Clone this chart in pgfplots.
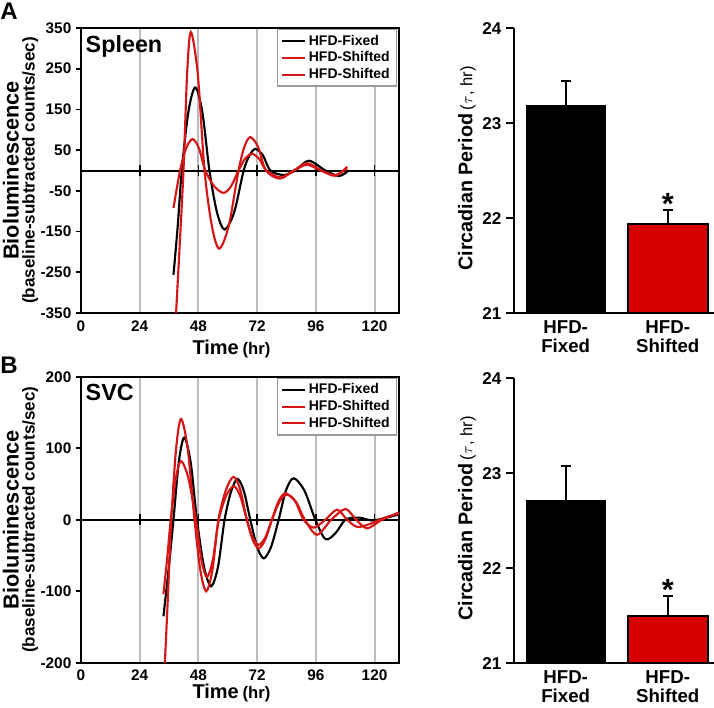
\documentclass[border=0pt]{standalone}
\usepackage{fontspec}
\setmainfont{Liberation Sans}
\usepackage{pgfplots}
\pgfplotsset{compat=1.18}

\definecolor{rd}{RGB}{212,22,22}
\definecolor{barred}{RGB}{214,0,0}
\definecolor{grd}{RGB}{188,188,188}

\tikzset{zline/.style={line width=1.5pt, black}}

\pgfplotsset{
  lineplot/.style={
    scale only axis, width=238.5pt,
    xmin=0, xmax=130, xtick={0,24,...,120},
    xmajorgrids, major grid style={grd, line width=1.5pt},
    axis line style={line width=1.5pt},
    xtick style={draw=none},
    ytick pos=left, ytick align=outside,
    ytick style={line width=1.2pt, black},
    major tick length=3.75pt,
    /pgf/number format/assume math mode=true,
    tick label style={font=\fontsize{11.5}{12}\selectfont\bfseries},
    xticklabel style={yshift=-2pt},
    xlabel={{\fontsize{15}{15}\selectfont Time} {\fontsize{12.5}{15}\selectfont (hr)}},
    xlabel style={font=\bfseries, inner sep=0pt, at={(axis description cs:0.473,0)}, anchor=north},
    ylabel={{\fontsize{16.3}{16}\selectfont Bioluminescence}\\{\fontsize{12.8}{13}\selectfont (baseline-subtracted counts/sec)}},
    ylabel style={align=center, font=\bfseries, at={(axis description cs:-0.19,0.5)}, anchor=center},
    legend style={at={(axis description cs:0.994,0.9965)}, anchor=north east,
      draw=gray!80, line width=1pt, font=\fontsize{10.5}{11}\selectfont\bfseries,
      row sep=-0.5pt, inner xsep=3pt, inner ysep=2pt},
    legend cell align=left,
    legend image code/.code={\draw[#1] (0pt,0pt) -- (17pt,0pt);},
    every axis plot/.append style={line width=1.6pt, smooth, tension=0.5},
  },
  barplot/.style={
    scale only axis, width=150pt, height=213.75pt,
    clip mode=individual,
    xmin=-0.506, xmax=1.453, ymin=21, ymax=24, ytick={21,22,23,24},
    axis x line*=bottom, axis y line*=left,
    axis line style={line width=1.5pt},
    xtick={0,1}, xticklabels={{HFD-\\Fixed},{HFD-\\Shifted}},
    xtick style={draw=none},
    ytick align=outside, ytick style={line width=1.2pt, black}, major tick length=6pt,
    /pgf/number format/assume math mode=true,
    yticklabel style={font=\fontsize{12.8}{13}\selectfont\bfseries},
    xticklabel style={font=\fontsize{14}{14.6}\selectfont\bfseries, align=center, inner sep=0pt, yshift=-5pt},
  },
}

\begin{document}
\begin{tikzpicture}
\useasboundingbox (0,0) rectangle (535.5pt,530.25pt);

% panel A, spleen
\begin{axis}[lineplot, at={(60.75pt,295.5pt)}, height=213.75pt,
  ymin=-350, ymax=350, ytick={-350,-250,...,350},
  xlabel style={yshift=-20pt}]
\draw[zline] (axis cs:0,0) -- (axis cs:130,0);
\pgfplotsinvokeforeach{24,48,72,96,120}{\draw[line width=1.3pt] ([yshift=-4pt]axis cs:#1,0) -- ([yshift=4pt]axis cs:#1,0);}
\addplot[black] coordinates {(37.8,-256) (39.5,-140) (41.2,0) (43.9,144) (46.7,204) (49.6,144) (52.5,0) (55.6,-103) (58.7,-145) (62.6,-103) (66.5,0) (68.9,37) (71.3,53) (74.4,37) (77.4,0) (82.8,-11) (87.6,0) (93.1,24) (99.9,0) (105.4,-13.5) (108.8,-3)};
\addlegendentry{HFD-Fixed}
\addplot[rd] coordinates {(38.6,-380) (40.2,-200) (41.9,0) (43.4,240) (44.9,340) (47.7,240) (50.5,0) (53.5,-136) (56.5,-192) (60.4,-136) (64.4,0) (66.8,58) (69.2,82) (72.4,58) (75.6,0) (81.3,-20) (87,0) (92.4,18) (98.2,0) (104,-13) (108.8,9)};
\addlegendentry{HFD-Shifted}
\addplot[rd] coordinates {(37.8,-92) (40.5,0) (43,55) (45.6,77) (48.2,55) (50.8,0) (54.5,-39) (58.3,-55) (61.3,-39) (64.4,0) (67.2,30) (69.9,41) (72.8,29) (75.8,0) (81.5,-17) (87,0) (92.4,14) (98,0) (104,-11) (108.8,5)};
\addlegendentry{HFD-Shifted}
\node[anchor=north west, inner sep=0pt, font=\fontsize{17.5}{18}\selectfont\bfseries] at (axis description cs:0.014,0.975) {Spleen};
\end{axis}

% panel B, SVC
\begin{axis}[lineplot, at={(60.75pt,33.2pt)}, height=214.5pt,
  ymin=-200, ymax=200, ytick={-200,-100,...,200},
  xlabel style={yshift=-16pt}]
\draw[zline] (axis cs:0,0) -- (axis cs:130,0);
\pgfplotsinvokeforeach{24,48,72,96,120}{\draw[line width=1.3pt] ([yshift=-4pt]axis cs:#1,0) -- ([yshift=4pt]axis cs:#1,0);}
\addplot[black] coordinates {(33.7,-135) (35.8,-70) (37.8,0) (40,81) (42.2,115) (44.8,81) (47.4,0) (50.3,-66) (53.2,-93) (56,-66) (58.7,0) (61.4,40) (64,57) (66.6,40) (69.2,0) (72,-38) (74.7,-54) (77.7,-38) (80.8,0) (83.8,41) (86.9,58) (91.3,41) (95.8,0) (99.9,-27) (104,-19) (108.1,0) (113.6,3) (119,-1) (125,3) (130.6,8)};
\addlegendentry{HFD-Fixed}
\addplot[rd] coordinates {(34.1,-215) (35.5,-110) (36.9,0) (38.9,100) (40.9,141) (43.6,100) (46.4,0) (48.8,-71) (51.2,-100) (53.7,-71) (56.2,0) (59.3,42) (62.4,60) (65.1,42) (67.8,0) (70.2,-28) (72.6,-40) (75.3,-28) (78.1,0) (81.1,25) (84.2,35) (87.9,25) (91.5,0) (96.5,-21) (102.3,0) (108.1,15) (112.5,0) (117,-12) (123,0) (130.6,11)};
\addlegendentry{HFD-Shifted}
\addplot[rd] coordinates {(33.7,-104) (35.2,-55) (36.7,0) (38.8,58) (40.9,82) (43.9,58) (47,0) (49.2,-56) (51.5,-80) (53.9,-56) (56.3,0) (59.3,33) (62.4,47) (65.1,33) (67.8,0) (70.2,-25) (72.6,-35) (75.3,-25) (78,0) (80.8,26) (83.5,37) (87.5,26) (91,0) (95.1,-11) (99.9,0) (104.7,14) (108.8,0) (112.9,-10) (118,-6) (122,0) (126,5) (130.6,9)};
\addlegendentry{HFD-Shifted}
\node[anchor=north west, inner sep=0pt, font=\fontsize{17.5}{18}\selectfont\bfseries] at (axis description cs:0.014,0.975) {SVC};
\end{axis}

% bar chart A
\begin{axis}[barplot, at={(385.5pt,295.3pt)}]
\addplot[ybar, bar width=0.78, fill=black, draw=black,
  error bars/.cd, y dir=plus, y explicit,
  error bar style={line width=1.5pt, black},
  error mark options={line width=1.5pt, black, mark size=3.75pt, rotate=90}]
  coordinates {(0,23.19) +- (0,0.25)};
\addplot[ybar, bar width=0.78, fill=barred, draw=black, line width=1.5pt,
  error bars/.cd, y dir=plus, y explicit,
  error bar style={line width=1.5pt, black},
  error mark options={line width=1.5pt, black, mark size=3.75pt, rotate=90}]
  coordinates {(1,21.94) +- (0,0.15)};
\node[anchor=base, inner sep=0pt, font=\fontsize{23}{23}\selectfont\bfseries] at (axis cs:1,22.04) {*};
\node[rotate=90, anchor=center, inner sep=0pt] at (axis description cs:-0.235,0.508)
  {{\fontsize{14.8}{16}\selectfont\bfseries Circadian Period} {\fontsize{12.5}{12}\selectfont ($\tau$, hr)}};
\end{axis}

% bar chart B
\begin{axis}[barplot, at={(385.5pt,32.8pt)}]
\addplot[ybar, bar width=0.78, fill=black, draw=black,
  error bars/.cd, y dir=plus, y explicit,
  error bar style={line width=1.5pt, black},
  error mark options={line width=1.5pt, black, mark size=3.75pt, rotate=90}]
  coordinates {(0,22.72) +- (0,0.36)};
\addplot[ybar, bar width=0.78, fill=barred, draw=black, line width=1.5pt,
  error bars/.cd, y dir=plus, y explicit,
  error bar style={line width=1.5pt, black},
  error mark options={line width=1.5pt, black, mark size=3.75pt, rotate=90}]
  coordinates {(1,21.50) +- (0,0.21)};
\node[anchor=base, inner sep=0pt, font=\fontsize{23}{23}\selectfont\bfseries] at (axis cs:1,21.66) {*};
\node[rotate=90, anchor=center, inner sep=0pt] at (axis description cs:-0.235,0.508)
  {{\fontsize{14.8}{16}\selectfont\bfseries Circadian Period} {\fontsize{12.5}{12}\selectfont ($\tau$, hr)}};
\end{axis}

\node[anchor=north west, inner sep=0pt, font=\fontsize{18}{18}\selectfont\bfseries] at (0pt,528pt) {A};
\node[anchor=north west, inner sep=0pt, font=\fontsize{18}{18}\selectfont\bfseries] at (0pt,262.5pt) {B};
\end{tikzpicture}
\end{document}
